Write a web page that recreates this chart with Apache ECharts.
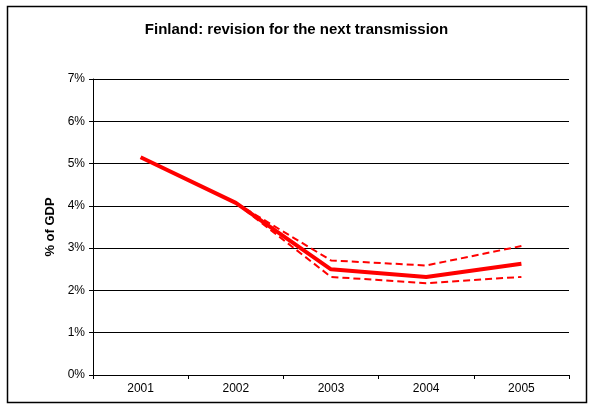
<!DOCTYPE html>
<html><head><meta charset="utf-8">
<script src="https://cdn.jsdelivr.net/npm/echarts@6/dist/echarts.min.js"></script>
<style>html,body{margin:0;padding:0;background:#fff}#c{width:593px;height:410px}</style>
</head><body><div id="c"></div>
<script>
var categories = ['2001','2002','2003','2004','2005'];
var central = [5.15, 4.07, 2.50, 2.32, 2.63];
var upper = [null, 4.07, 2.71, 2.59, 3.05];
var lower = [null, 4.07, 2.32, 2.17, 2.32];
var yTicks = [0,1,2,3,4,5,6,7];

var chart = echarts.init(document.getElementById('c'), null, {renderer:'canvas'});
var font = 'Arial, "Liberation Sans", sans-serif';
chart.setOption({
  animation:false,
  title:{text:'Finland: revision for the next transmission', left:'center', top:17,
    textStyle:{fontFamily:font, fontSize:15, fontWeight:'bold', color:'#000'}},
  grid:{left:93, right:24, top:79, bottom:35},
  graphic:[{type:'rect', shape:{x:7.5,y:6.5,width:579,height:396}, style:{fill:null, stroke:'#000', lineWidth:1.5}, silent:true}],
  xAxis:{type:'category', data:categories, boundaryGap:true,
    axisLine:{lineStyle:{color:'#000', width:1}},
    axisTick:{show:true, alignWithLabel:false, length:4, lineStyle:{color:'#000'}},
    axisLabel:{fontFamily:font, fontSize:12, color:'#000', margin:8},
    splitLine:{show:false}},
  yAxis:{type:'value', min:0, max:7, interval:1,
    name:'% of GDP', nameLocation:'middle', nameGap:35,
    nameTextStyle:{fontFamily:font, fontSize:13, fontWeight:'bold', color:'#000'},
    axisLine:{show:true, lineStyle:{color:'#000'}},
    axisTick:{show:true, length:4, lineStyle:{color:'#000'}},
    axisLabel:{fontFamily:font, fontSize:12, color:'#000', margin:8,
      formatter:function(v){return yTicks.indexOf(v)>=0 ? v+'%' : '';}},
    splitLine:{show:true, lineStyle:{color:'#000', width:1}}},
  series:[
    {type:'line', data:upper, symbol:'none', connectNulls:false,
      lineStyle:{color:'#ff0000', width:2, type:[7,4]}, z:2},
    {type:'line', data:lower, symbol:'none', connectNulls:false,
      lineStyle:{color:'#ff0000', width:2, type:[7,4]}, z:2},
    {type:'line', data:central, symbol:'none',
      lineStyle:{color:'#ff0000', width:4}, z:3}
  ]
});
</script></body></html>
